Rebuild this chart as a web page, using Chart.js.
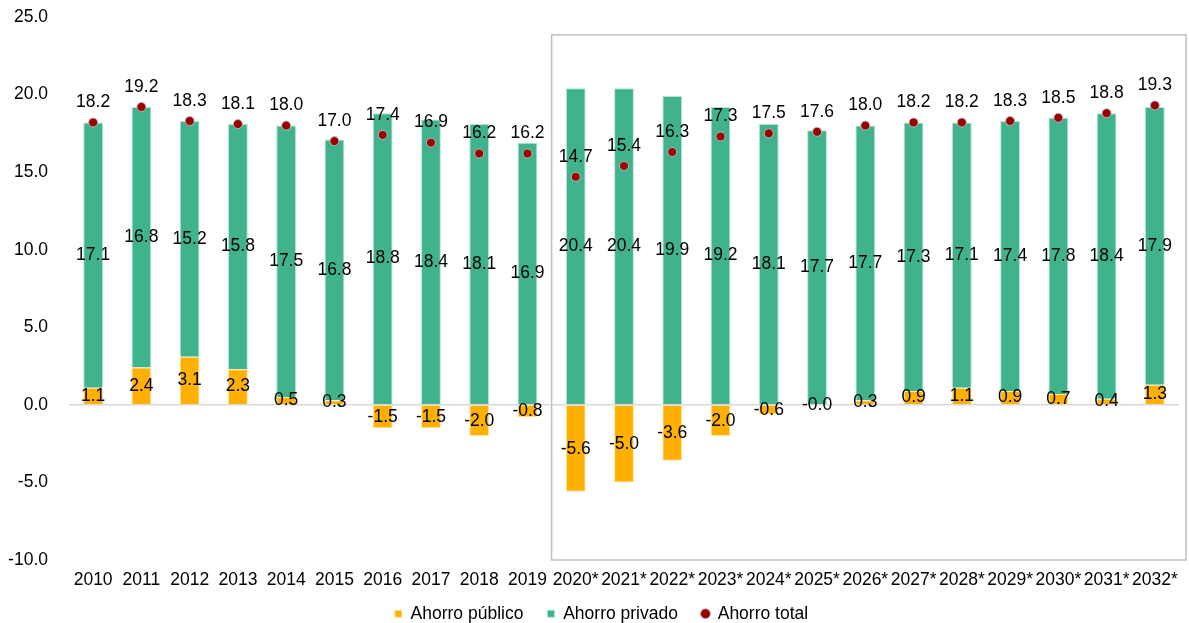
<!DOCTYPE html>
<html><head><meta charset="utf-8">
<script src="https://cdn.jsdelivr.net/npm/chart.js@4"></script>
<style>html,body{margin:0;padding:0;background:#fff}#wrap{width:1189px;height:623px;position:relative}</style>
</head><body><div id="wrap"><canvas id="c"></canvas></div>
<script>
const categories = ['2010','2011','2012','2013','2014','2015','2016','2017','2018','2019','2020*','2021*','2022*','2023*','2024*','2025*','2026*','2027*','2028*','2029*','2030*','2031*','2032*'];
const ahorroPublico = [1.1, 2.4, 3.1, 2.3, 0.5, 0.3, -1.5, -1.5, -2.0, -0.8, -5.6, -5.0, -3.6, -2.0, -0.6, -0.0, 0.3, 0.9, 1.1, 0.9, 0.7, 0.4, 1.3];
const ahorroPrivado = [17.1, 16.8, 15.2, 15.8, 17.5, 16.8, 18.8, 18.4, 18.1, 16.9, 20.4, 20.4, 19.9, 19.2, 18.1, 17.7, 17.7, 17.3, 17.1, 17.4, 17.8, 18.4, 17.9];
const ahorroTotal = [18.2, 19.2, 18.3, 18.1, 18.0, 17.0, 17.4, 16.9, 16.2, 16.2, 14.7, 15.4, 16.3, 17.3, 17.5, 17.6, 18.0, 18.2, 18.2, 18.3, 18.5, 18.8, 19.3];
const yMin = -10, yMax = 25, yStep = 5;
const projectionStart = 10; // index of first projected category (2020*)

const FONT = 'Arial, "Liberation Sans", sans-serif';
const FS = 17.5;

function fmt(v){ return (v < 0 || Object.is(v, -0)) ? '-' + Math.abs(v).toFixed(1) : v.toFixed(1); }

const labelsPlugin = {
  id: 'valueLabels',
  afterDatasetsDraw(chart){
    const ctx = chart.ctx;
    ctx.save();
    ctx.font = FS + 'px ' + FONT;
    ctx.fillStyle = '#000';
    ctx.textAlign = 'center';
    ctx.textBaseline = 'middle';
    chart.data.datasets.forEach((ds, di) => {
      const meta = chart.getDatasetMeta(di);
      meta.data.forEach((el, i) => {
        const v = ds.data[i];
        if (ds.type === 'line') {
          ctx.fillText(fmt(v), el.x, el.y - 20);
        } else {
          ctx.fillText(fmt(v), el.x, (el.y + el.base) / 2);
        }
      });
    });
    ctx.restore();
  }
};

const boxPlugin = {
  id: 'projBox',
  beforeDatasetsDraw(chart){
    const {ctx, chartArea, scales:{x, y}} = chart;
    const left = (x.getPixelForValue(projectionStart - 1) + x.getPixelForValue(projectionStart)) / 2;
    const right = chartArea.right + 7;
    const top = y.getPixelForValue(23.85);
    const bottom = y.getPixelForValue(yMin);
    ctx.save();
    ctx.strokeStyle = '#bfbfbf';
    ctx.lineWidth = 1.5;
    ctx.strokeRect(left, top, right - left, bottom - top);
    ctx.restore();
  }
};

const legendFitPlugin = {
  id: 'legendFit',
  afterInit(chart){
    const lg = chart.legend;
    if (!lg) return;
    const orig = lg.fit.bind(lg);
    lg.fit = function(){ orig(); this.height = 32; };
  },
  afterLayout(chart){
    const lg = chart.legend;
    if (!lg) return;
    lg.top -= 10;
    lg.left += 12; lg.right += 12;
  }
};

new Chart(document.getElementById('c'), {
  data: {
    labels: categories,
    datasets: [
      { type: 'bar', label: 'Ahorro público', data: ahorroPublico, backgroundColor: '#FFB000', borderColor: 'rgba(255,225,150,0.9)', borderWidth: 1, stack: 'ahorro', order: 2, pointStyle: 'rect', barPercentage: 0.41, categoryPercentage: 1.0 },
      { type: 'bar', label: 'Ahorro privado', data: ahorroPrivado, backgroundColor: '#40B38E', borderColor: 'rgba(170,225,205,0.9)', borderWidth: 1, stack: 'ahorro', order: 2, pointStyle: 'rect', barPercentage: 0.41, categoryPercentage: 1.0 },
      { type: 'line', label: 'Ahorro total', data: ahorroTotal, showLine: false, stack: 'total', order: 0, pointStyle: 'circle', pointRadius: 4.5, pointBackgroundColor: '#9A0000', pointBorderColor: 'rgba(200,190,190,0.9)', pointBorderWidth: 1, backgroundColor: '#9A0000', borderColor: 'rgba(200,190,190,0.9)' }
    ]
  },
  options: {
    responsive: true,
    maintainAspectRatio: false,
    animation: false,
    layout: { padding: { top: 17, right: 10, left: 0, bottom: 0 } },
    plugins: {
      tooltip: { enabled: false },
      legend: {
        position: 'bottom',
        labels: {
          usePointStyle: true,
          boxWidth: 7, boxHeight: 7,
          padding: 24,
          color: '#000',
          font: { family: FONT, size: FS },
          sort: (a, b) => a.datasetIndex - b.datasetIndex
        }
      }
    },
    scales: {
      x: {
        stacked: true,
        grid: { display: false, drawTicks: false },
        border: { display: false },
        ticks: { color: '#000', font: { family: FONT, size: FS }, padding: 9.5, maxRotation: 0, autoSkip: false },
        afterFit: s => { s.height = 31; }
      },
      y: {
        stacked: true,
        min: yMin, max: yMax,
        grid: {
          drawTicks: true,
          tickLength: 18,
          tickColor: 'rgba(0,0,0,0)',
          color: c => (c.tick && c.tick.value === 0) ? '#d9d9d9' : 'rgba(0,0,0,0)',
          lineWidth: 1.5
        },
        border: { display: false },
        ticks: { stepSize: yStep, color: '#000', font: { family: FONT, size: FS }, padding: 3, callback: v => Number(v).toFixed(1) },
        afterFit: s => { s.width = 69; }
      }
    }
  },
  plugins: [labelsPlugin, boxPlugin, legendFitPlugin]
});
</script>
</body></html>
